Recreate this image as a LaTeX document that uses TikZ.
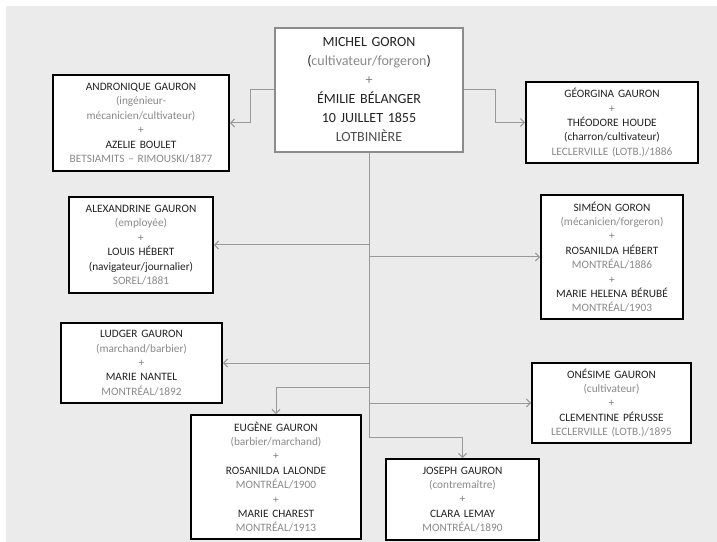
\documentclass[tikz,border=0pt]{standalone}
\usepackage{fontspec}
\setmainfont{Carlito}
\usepackage{xcolor}
\usetikzlibrary{arrows.meta}

\definecolor{fond}{HTML}{EBEBEB}
\definecolor{encre}{HTML}{222222}
\definecolor{pale}{HTML}{8A8A8A}
\definecolor{trait}{HTML}{999999}
\newcommand{\pale}[1]{\textcolor{pale}{#1}}
\newcommand{\mi}[1]{\textcolor{gray}{#1}}

\tikzset{
	famille/.style={rectangle, draw=black, fill=white, line width=1.8bp, text=encre, inner sep=0pt, align=center, font=\fontsize{11.3bp}{14.4bp}\selectfont},
	lien/.style={draw=trait, line width=1bp, -{Straight Barb[length=4bp,width=8bp]}}
}

\begin{document}
\begin{tikzpicture}[x=1bp, y=-1bp]
				\useasboundingbox (0,0) rectangle (717,542);
				\fill[fond] (6,6) rectangle (717,542);
				
				%%% PARENTS
				\node[famille, draw=gray!90, line width=2.6bp, text width=188bp, minimum height=124bp, font=\fontsize{14bp}{19bp}\selectfont] (main) at (369,90) {MICHEL GORON\\(\textcolor{pale}{cultivateur/forgeron})\\\mi{+}\\ÉMILIE BÉLANGER\\10 JUILLET 1855\\\textcolor{encre!80}{LOTBINIÈRE}};
				
				%%% ENFANTS
				\node[famille, text width=176bp, minimum height=96bp] (andr) at (141,123) {ANDRONIQUE GAURON\\\pale{(ingénieur-}\\\pale{mécanicien/cultivateur)}\\\mi{+}\\AZELIE BOULET\\\pale{BETSIAMITS – RIMOUSKI/1877}};
				\node[famille, text width=172bp, minimum height=81bp] (geor) at (612,122.5) {GÉORGINA GAURON\\\mi{+}\\THÉODORE HOUDE\\(charron/cultivateur)\\\pale{LECLERVILLE (LOTB.)/1886}};
				\node[famille, text width=144bp, minimum height=96bp] (alex) at (141,245) {ALEXANDRINE GAURON\\\pale{(employée)}\\\mi{+}\\LOUIS HÉBERT\\(navigateur/journalier)\\\pale{SOREL/1881}};
				\node[famille, text width=142bp, minimum height=124bp] (sime) at (612,257) {SIMÉON GORON\\\pale{(mécanicien/forgeron)}\\\mi{+}\\ROSANILDA HÉBERT\\\pale{MONTRÉAL/1886}\\\mi{+}\\MARIE HELENA BÉRUBÉ\\\pale{MONTRÉAL/1903}};
				\node[famille, text width=161bp, minimum height=80bp] (ludg) at (141.5,363) {LUDGER GAURON\\\pale{(marchand/barbier)}\\\mi{+}\\MARIE NANTEL\\\pale{MONTRÉAL/1892}};
				\node[famille, text width=159bp, minimum height=80bp] (ones) at (611.5,403) {ONÉSIME GAURON\\\pale{(cultivateur)}\\\mi{+}\\CLEMENTINE PÉRUSSE\\\pale{LECLERVILLE (LOTB.)/1895}};
				\node[famille, text width=170bp, minimum height=124bp] (euge) at (276,477) {EUGÈNE GAURON\\\pale{(barbier/marchand)}\\\mi{+}\\ROSANILDA LALONDE\\\pale{MONTRÉAL/1900}\\\mi{+}\\MARIE CHAREST\\\pale{MONTRÉAL/1913}};
				\node[famille, text width=153bp, minimum height=81bp] (jose) at (462.5,499.5) {JOSEPH GAURON\\\pale{(contremaître)}\\\mi{+}\\CLARA LEMAY\\\pale{MONTRÉAL/1890}};
				
				%%% LIENS
				\coordinate (eugtop) at (276,387);
				\coordinate (jostop) at (462.5,437);
				\draw[lien] (main.west) -- ++(-23,0) |- (andr.east);
				\draw[lien] (main.east) -- ++(31,0) |- (geor.west);
				\draw[lien] (main.south) |- (alex.east);
				\draw[lien] (main.south) |- (sime.west);
				\draw[lien] (main.south) |- (ludg.east);
				\draw[lien] (main.south) |- (ones.west);
				\draw[lien] (main.south) |- (eugtop) -- (euge);
				\draw[lien] (main.south) |- (jostop) -- (jose);
			\end{tikzpicture}
\end{document}
